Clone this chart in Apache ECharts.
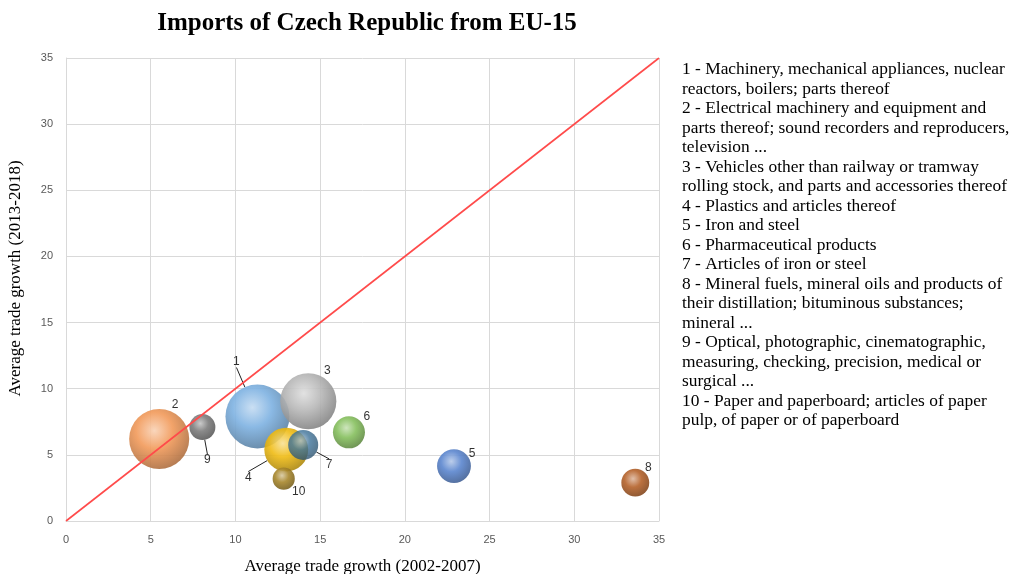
<!DOCTYPE html>
<html>
<head>
<meta charset="utf-8">
<script src="https://cdn.jsdelivr.net/npm/echarts@6/dist/echarts.min.js"></script>
<style>html,body{margin:0;padding:0;background:#fff}#c{width:1023px;height:574px}</style>
</head>
<body>
<div id="c"></div>
<script>
// ---- data ----
const ids = ['1','2','3','4','5','6','7','8','9','10'];
const growth0207 = [11.3, 5.5, 14.3, 13.0, 22.9, 16.7, 14.0, 33.6, 8.05, 12.85];
const growth1318 = [7.9, 6.2, 9.05, 5.4, 4.15, 6.7, 5.75, 2.9, 7.1, 3.2];
const bubbleWeight = [100, 88, 77, 47, 28, 25, 22, 19, 16.5, 12];
const xTicks = [0, 5, 10, 15, 20, 25, 30, 35];
const yTicks = [0, 5, 10, 15, 20, 25, 30, 35];
const legendLines = [
  '1 - Machinery, mechanical appliances, nuclear',
  'reactors, boilers; parts thereof',
  '2 - Electrical machinery and equipment and',
  'parts thereof; sound recorders and reproducers,',
  'television ...',
  '3 - Vehicles other than railway or tramway',
  'rolling stock, and parts and accessories thereof',
  '4 - Plastics and articles thereof',
  '5 - Iron and steel',
  '6 - Pharmaceutical products',
  '7 - Articles of iron or steel',
  '8 - Mineral fuels, mineral oils and products of',
  'their distillation; bituminous substances;',
  'mineral ...',
  '9 - Optical, photographic, cinematographic,',
  'measuring, checking, precision, medical or',
  'surgical ...',
  '10 - Paper and paperboard; articles of paper',
  'pulp, of paper or of paperboard'
];

// ---- styles ----
const baseColors = ['#7eb2e2','#f29a5a','#b8b8b8','#f0bc14','#5b86cf','#86c05e','#3d7299','#b5622a','#7d7d7d','#a8872c'];
const labelOffsets = [[-21,-55],[16,-34],[19,-31],[-38,28],[18,-12],[18,-16],[26,20],[13,-15],[5,33],[15,13]];
const leader = [true,false,false,true,false,false,true,false,true,false];

function shade(hex, f) {
  const n = parseInt(hex.slice(1), 16);
  let r = (n >> 16) & 255, g = (n >> 8) & 255, b = n & 255;
  if (f >= 0) { r += (255 - r) * f; g += (255 - g) * f; b += (255 - b) * f; }
  else { r *= (1 + f); g *= (1 + f); b *= (1 + f); }
  return 'rgb(' + Math.round(r) + ',' + Math.round(g) + ',' + Math.round(b) + ')';
}

const chart = echarts.init(document.getElementById('c'));
const data = ids.map((id, i) => ({
  name: id,
  value: [growth0207[i], growth1318[i], bubbleWeight[i]],
  itemStyle: {
    opacity: i === 6 ? 0.8 : 0.9,
    color: new echarts.graphic.RadialGradient(0.42, 0.36, 0.68, [
      { offset: 0, color: shade(baseColors[i], 0.55) },
      { offset: 0.45, color: baseColors[i] },
      { offset: 1, color: shade(baseColors[i], -0.3) }
    ])
  },
  labelLine: { show: leader[i] }
}));

chart.setOption({
  animation: false,
  title: {
    text: 'Imports of Czech Republic from EU-15',
    left: 362, top: 6, textAlign: 'center',
    textStyle: { fontFamily: 'Liberation Serif', fontWeight: 'bold', fontSize: 25, color: '#000' }
  },
  grid: { left: 66, right: 364, top: 58, bottom: 53, containLabel: false, outerBoundsMode: 'none' },
  xAxis: {
    type: 'value', min: 0, max: 35, interval: 5,
    name: 'Average trade growth (2002-2007)', nameLocation: 'middle', nameGap: 37,
    nameTextStyle: { fontFamily: 'Liberation Serif', fontSize: 17, color: '#000' },
    axisLine: { show: true, lineStyle: { color: '#d9d9d9' } },
    axisTick: { show: false },
    axisLabel: { color: '#595959', fontSize: 11, margin: 13, fontFamily: 'Liberation Sans',
      formatter: v => xTicks.includes(v) ? String(v) : '' },
    splitLine: { show: true, lineStyle: { color: '#d9d9d9' } }
  },
  yAxis: {
    type: 'value', min: 0, max: 35, interval: 5,
    name: 'Average trade growth (2013-2018)', nameLocation: 'middle', nameGap: 42,
    nameTextStyle: { fontFamily: 'Liberation Serif', fontSize: 17, color: '#000', padding: [0, 0, 0, 22] },
    axisLine: { show: true, lineStyle: { color: '#d9d9d9' } },
    axisTick: { show: false },
    axisLabel: { color: '#595959', fontSize: 11, margin: 13, fontFamily: 'Liberation Sans',
      formatter: v => yTicks.includes(v) ? String(v) : '' },
    splitLine: { show: true, lineStyle: { color: '#d9d9d9' } }
  },
  series: [
    {
      type: 'scatter',
      data: data,
      symbolSize: v => Math.sqrt(v[2]) * 6.4,
      label: {
        show: true, position: 'inside', formatter: p => p.name,
        color: '#1a1a1a', fontSize: 12, fontFamily: 'Liberation Sans'
      },
      labelLine: { show: true, lineStyle: { color: '#222', width: 1 }, smooth: false, length2: 0 },
      labelLayout: p => ({ dx: labelOffsets[p.dataIndex][0], dy: labelOffsets[p.dataIndex][1] }),
      emphasis: { disabled: true },
      z: 2
    },
    {
      type: 'line',
      data: [[0, 0], [35, 35]],
      symbol: 'none',
      lineStyle: { color: '#ff4b4b', width: 1.6 },
      z: 3, silent: true
    }
  ],
  graphic: [{
    type: 'text',
    left: 682, top: 60,
    style: {
      text: legendLines.join('\n'),
      font: '17.4px "Liberation Serif"',
      lineHeight: 19.5,
      fill: '#000'
    }
  }]
});
</script>
</body>
</html>
